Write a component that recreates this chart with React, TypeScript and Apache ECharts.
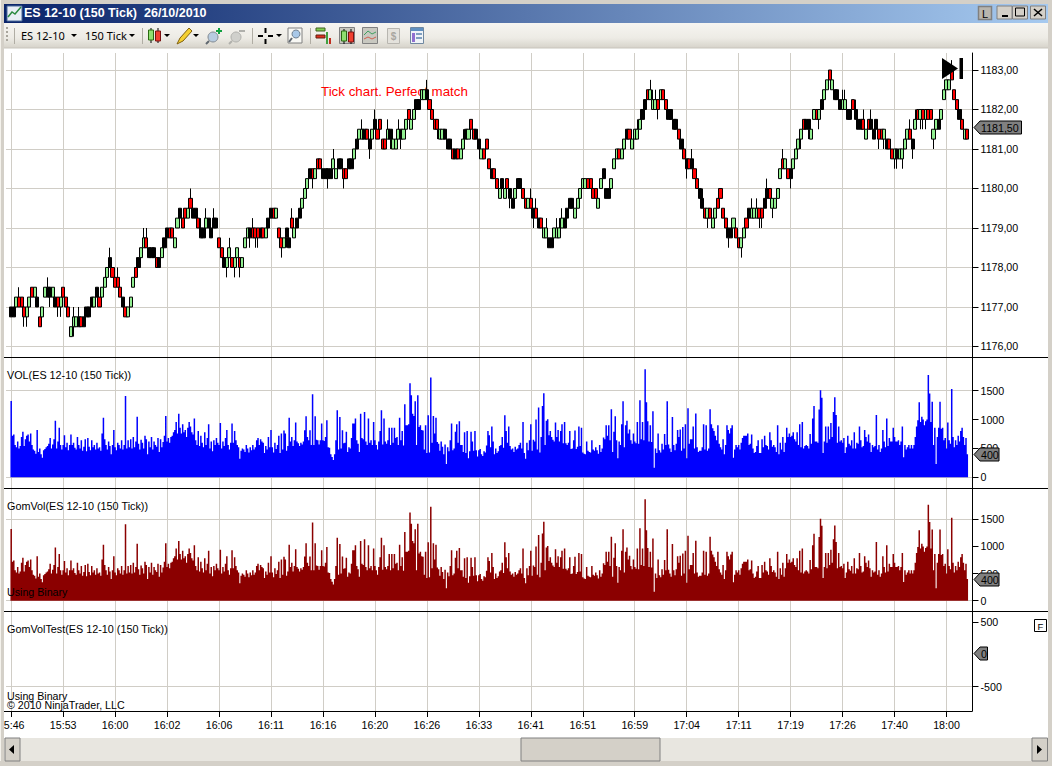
import React, { useEffect, useRef } from "react";
import * as echarts from "echarts";

// Time labels under the chart, one every 20 candles
const timeLabels = ["15:46","15:53","16:00","16:02","16:06","16:11","16:16","16:20","16:26","16:33","16:41","16:51","16:59","17:04","17:11","17:19","17:26","17:40","18:00"];
const priceTicks = [1176,1177,1178,1179,1180,1181,1182,1183];
const volTicks = [0,500,1000,1500];
const volGridTicks = [0,1500];
const testTicks = [-500,500];

// Candles: <body bottom in quarter points above 1176><g up|r down|k black><+ wick above><- wick below>
const candles0 = "3k 3k 4g 4r+ 4r 3r- 3g- 4g 5r 5g 4k 2r 3g 5g 5k+ 5k- 5g 4k 4r- 4g-".split(" ");
const candles1 = "5r 4r 3r 1g 2g+- 2g 2k+ 2r 2k 3k 3k 4k 4g 5k 4r 5g 6g 7g 8k+ 7r".split(" ");
const candles2 = "6r 6r+ 5r 4k 3r 3g 4g 6g 7r 8k 9g 10g+ 10r+ 9k 9k 9k 8r 8k 9g 10k".split(" ");
const candles3 = "11k 11r 11r 10g 12g 13k 12r 13r 13g 14r+ 13k 13k 12r 11k+ 11k 12g+ 12k 11k 12k+ 12k".split(" ");
const candles4 = "10r 9r 8k 8g- 9g+ 8r 8g- 9g 8r- 8g 10g 11g 11k- 11r+ 11r- 11r- 11k 11r 11g 12k".split(" ");
const candles5 = "13k 13r 13g 11r 10r- 10g 11k- 10k 12r+ 11g 12k 13k 14g 15g 16g 17k 17r- 17g 18r 18r".split(" ");
const candles6 = "17k 17k 17k- 17k 18g+ 17g 18k 18k 17r- 17r 18k 18k 19g 20k 21g 21g+ 21k 21r 20k- 21g".split(" ");
const candles7 = "22k+ 21r 22r 20r 20r 21g+ 21k- 20g 20g 21g+ 21k- 21g 22g 23r 22g 23g 24k 24k 25g 25g".split(" ");
const candles8 = "25k+ 24r 23r 22r 22r- 21g 21g 21k 20k 20k 19r 19k 19r 19g 20g+ 21k 21g 22r 21r 21k".split(" ");
const candles9 = "20k 19g 19r 20r 18r 17k 17r 16r 15g 16k 15g 16r 15k- 14k 15g 16k 16k 15r 14r 14g".split(" ");
const candles10 = "14r+ 13k- 13r+ 12k 12r 11g 11g+ 10k 10k 11g 11g+ 11g+ 12g+ 12k 13k 14k 14k 13g 14g 15g".split(" ");
const candles11 = "16g 16g 16r 16r 15r 15r 14g 16g 17k 15k 15k 16g 18g 19g 19r 19g 20g 21k 21r 20g".split(" ");
const candles12 = "21g 21g+ 22g 23k 24k 25r 25g+ 24g+ 24g+ 24r- 25g 25r 24r 23k 23k 22k 22k 21r 20k 19r".split(" ");
const candles13 = "18k- 18r 18k+ 17r 16r 15k 14k+ 13r 13g- 13r 12g 13g 14r 15r 13r 12r 11k- 11k 12g 11r".split(" ");
const candles14 = "10r 10g- 11g 12r 13k 13g+ 13g 13g+ 13r- 13r- 14k 15k+ 15r 14g- 14g 15g 17g 18r+ 18g 17r".split(" ");
const candles15 = "17k- 18g 19g 20g 21g- 22r 22k 22k- 21g 23g 23r 23g- 24k 25g 26g 27r 26g 25k 25k 24k".split(" ");
const candles16 = "24g+ 24g+ 23k 23k 24r 23k+ 22k 22k 22r+ 21g 22r 22k+ 21k 22k 21r- 21r 21g- 20k 20r 19r".split(" ");
const candles17 = "19g- 19k- 19g 19g- 20g 21g 21r+ 20k- 22g+ 23r 23g- 23r- 23g- 23r 23r 21g- 22g 22k 23g 25g".split(" ");
const candles18 = "26g 26g 27r+ 25r 24r 23k 22r 21g 21r".split(" ");

// Volume per bar, grouped by the span between two vertical grid lines
const vol0 = [1320,720,740,560,520,620,500,540,700,790,540,660,720,740,620,760,560,480,460,410,820,440,500,400,340,470,490,520,540,580,680,500,570,660,980,500,620,860,560,480];
const vol1 = [560,730,520,600,470,560,740,560,600,510,480,700,560,500,640,460,530,660,450,680,530,470,640,520,560,480,600,500,520,460,760,1030,660,560,480,620,540,400,560,820];
const vol2 = [520,470,600,560,500,640,480,560,1410,500,640,520,660,500,700,520,620,1050,580,480,650,600,500,720,660,400,620,520,700,480,620,560,530,680,440,660,520,610,720,1060];
const vol3 = [620,680,600,700,720,780,820,960,760,1100,860,760,920,780,820,700,860,960,880,780,740,1020,640,560,800,540,720,600,520,780,560,680,920,500,620,450,640,560,680,600];
const vol4 = [560,940,500,620,540,680,820,560,480,600,930,600,800,640,560,520,320,460,500,480,440,560,500,430,520,470,560,480,520,640,680,560,660,620,600,420,540,480,700,520];
const vol5 = [820,520,430,600,490,560,720,420,760,480,810,760,460,540,1030,620,700,540,640,950,620,590,540,600,570,620,815,1058,700,640,815,560,1440,560,1058,650,640,570,640,930];
const vol6 = [640,630,700,990,520,510,400,350,300,400,640,1160,480,1045,500,815,590,600,790,440,520,500,680,930,930,1020,640,580,440,1100,680,660,1130,620,560,1020,600,640,560,960];
const vol7 = [640,560,480,620,800,1160,570,1020,620,580,640,860,560,860,600,860,680,700,560,1030,640,800,550,1265,900,900,920,1627,1420,1100,1060,1317,560,1420,870,900,820,810,480,900];
const vol8 = [420,1075,430,1730,600,1060,760,1030,610,580,460,620,530,400,570,230,520,450,640,930,470,500,790,920,600,970,560,560,440,780,420,800,330,450,790,620,460,800,470,360];
const vol9 = [470,490,400,370,450,430,550,800,730,520,880,620,400,500,420,450,540,560,700,510,1075,800,600,880,540,480,500,440,530,480,500,560,600,500,960,420,320,600,470,640];
const vol10 = [920,460,650,620,1000,480,1210,430,700,1236,1455,560,980,1006,730,800,700,650,620,950,700,820,620,800,920,590,960,590,560,600,800,490,500,640,810,490,530,880,540,860];
const vol11 = [430,410,400,620,460,440,430,640,480,460,520,470,410,560,440,500,690,660,900,720,900,640,1180,440,790,1058,640,330,620,560,920,1317,520,900,980,760,830,640,580,760];
const vol12 = [620,590,960,580,1334,660,960,640,1870,1300,970,620,900,610,1144,167,500,420,760,470,430,580,480,750,560,1317,570,500,440,1046,560,470,580,820,700,830,460,870,500,920];
const vol13 = [330,1196,580,660,660,880,500,1104,520,440,460,460,520,920,480,900,460,500,1180,920,850,800,720,640,900,580,520,480,660,400,560,900,820,760,850,900,340,480,560,520];
const vol14 = [560,480,600,680,720,720,720,760,560,580,740,500,420,440,540,640,420,420,660,520,720,560,540,480,780,640,530,560,520,440,900,400,600,480,700,440,600,860,700,760];
const vol15 = [700,720,780,660,620,780,560,920,520,960,500,540,560,540,500,750,580,1020,1235,620,620,600,1175,1510,1380,420,620,880,600,880,660,940,700,1130,1385,1080,600,880,620,640];
const vol16 = [600,680,420,520,720,580,550,640,500,780,500,600,580,880,640,520,540,820,700,620,740,600,440,560,520,540,1080,480,560,440,500,820,620,520,1020,540,680,620,620,860];
const vol17 = [700,620,620,640,560,620,880,346,560,480,520,560,500,560,500,560,700,880,990,1300,960,1050,1000,900,970,1000,1770,1450,960,1310,560,860,230,700,860,1310,840,860,640,680];
const vol18 = [500,950,640,580,1530,700,520,640,560,720,620,800,860,700,560,680,400];

const lastPrice = 1181.5;
const lastVol = 400;
const lastTest = 0;

const GRID = "#D0CDC6";
const AXIS_FONT = "Liberation Sans";
const FRAME = "#D4D0C8";

const candleTokens = [candles0,candles1,candles2,candles3,candles4,candles5,candles6,candles7,candles8,candles9,candles10,candles11,candles12,candles13,candles14,candles15,candles16,candles17,candles18].flat();
const volumes = [vol0,vol1,vol2,vol3,vol4,vol5,vol6,vol7,vol8,vol9,vol10,vol11,vol12,vol13,vol14,vol15,vol16,vol17,vol18].flat();

const CANDLE_PAD = 2; // empty candle slots left of the first candle
const VOL_PAD = 4;
const candleSlots = 373;
const volSlots = 745;

const candleCats = Array.from({ length: candleSlots }, (_, i) => String(i));
const volCats = Array.from({ length: volSlots }, (_, i) => String(i));
const timeTickValues = timeLabels.map((_, k) => CANDLE_PAD + k * 20);

const candleData: any[] = [];
for (let i = 0; i < CANDLE_PAD; i++) candleData.push(["-", "-", "-", "-"]);
candleTokens.forEach((t) => {
  const m = /^(\d+)([gkr])(\+*)(-*)$/.exec(t)!;
  const bottom = 1176 + Number(m[1]) * 0.25;
  const top = bottom + 0.25;
  const high = top + m[3].length * 0.25;
  const low = bottom - m[4].length * 0.25;
  const down = m[2] === "r";
  const item: any = { value: down ? [top, bottom, low, high] : [bottom, top, low, high] };
  if (m[2] === "k") item.itemStyle = { color: "#000", color0: "#000", borderColor: "#000", borderColor0: "#000" };
  candleData.push(item);
});
const volData = [...Array(VOL_PAD).fill(0), ...volumes];
const gomVolData = [...Array(VOL_PAD).fill(0), ...volumes]; // the two panes match bar for bar

const candleGridTest = (i: number) => i >= CANDLE_PAD && (i - CANDLE_PAD) % 20 === 0;
const volGridTest = (i: number) => i >= VOL_PAD && (i - VOL_PAD) % 40 === 0;

const LEFT = 6;
const PLOT_W = 966.5;
const panes = [
  { top: 53, height: 304, min: 1175.734, max: 1183.43 },
  { top: 357, height: 132, min: -202.7, max: 2083.8 },
  { top: 489, height: 123, min: -208, max: 2058 },
  { top: 612, height: 99, min: -875.6, max: 654.6 },
];

function xAxisFor(gridIndex: number, slots: "candle" | "vol"): any {
  const test = slots === "candle" ? candleGridTest : volGridTest;
  return {
    type: "category",
    gridIndex,
    boundaryGap: false,
    data: slots === "candle" ? candleCats : volCats,
    axisLine: { show: false, onZero: false },
    axisTick: { show: false },
    axisLabel: { show: false },
    splitLine: { show: true, interval: (i: number) => test(i), lineStyle: { color: GRID, width: 1 } },
  };
}

function timeAxis(gridIndex: number): any {
  return {
    type: "value",
    gridIndex,
    min: 0,
    max: candleSlots - 1,
    axisLine: { show: false, onZero: false },
    axisTick: { show: true, customValues: timeTickValues, length: 6, lineStyle: { color: "#000" } },
    axisLabel: {
      show: true, customValues: timeTickValues, color: "#000", fontFamily: AXIS_FONT, fontSize: 10.67, margin: 8,
      formatter: (v: number) => timeLabels[(v - CANDLE_PAD) / 20] ?? "",
    },
    splitLine: { show: true, lineStyle: { color: GRID, width: 1 } },
  };
}

function mainY(gridIndex: number, ticks: number[], fmt: (v: number) => string): any {
  const p = panes[gridIndex];
  return {
    type: "value",
    gridIndex,
    position: "right",
    min: p.min,
    max: p.max,
    scale: true,
    axisLine: { show: true, onZero: false, lineStyle: { color: "#000", width: 1 } },
    axisTick: { show: true, customValues: ticks, length: 6, lineStyle: { color: "#000" } },
    axisLabel: { show: true, customValues: ticks, color: "#000", fontFamily: AXIS_FONT, fontSize: 10.67, margin: 8, formatter: fmt },
    splitLine: { show: false },
  };
}

function gridY(gridIndex: number, ticks: number[]): any {
  const p = panes[gridIndex];
  return {
    type: "value",
    gridIndex,
    position: "left",
    min: p.min,
    max: p.max,
    scale: true,
    axisLine: { show: false },
    axisTick: { show: false, customValues: ticks },
    axisLabel: { show: false },
    splitLine: { show: true, lineStyle: { color: GRID, width: 1 } },
  };
}

const rect = (x: number, y: number, w: number, h: number, fill: any, extra: any = {}, z = 100) => ({
  type: "rect", z, silent: true, shape: { x, y, width: w, height: h }, style: { fill, ...extra },
});
const label = (x: number, y: number, text: string, font: string, fill = "#000", z = 100, align = "left") => ({
  type: "text", z, silent: true, x, y,
  style: { text, font, fill, align, verticalAlign: "middle", textAlign: align, textVerticalAlign: "middle" },
});
const line = (x1: number, y1: number, x2: number, y2: number, stroke = "#000", z = 100, lineWidth = 1) => ({
  type: "line", z, silent: true, shape: { x1, y1, x2, y2 }, style: { stroke, lineWidth },
});
const poly = (points: number[][], fill: string, stroke: any = null, z = 100) => ({
  type: "polygon", z, silent: true, shape: { points }, style: { fill, stroke, lineWidth: 1 },
});
const grad = (x2: number, y2: number, stops: [number, string][]) =>
  new echarts.graphic.LinearGradient(0, 0, x2, y2, stops.map(([offset, color]) => ({ offset, color })));

function dropdown(x: number, y: number) {
  return poly([[x, y], [x + 6, y], [x + 3, y + 3]], "#000");
}
function candleIcon(x: number, y: number, a: string, b: string) {
  return [
    line(x + 3, y, x + 3, y + 15), line(x + 10, y, x + 10, y + 15),
    rect(x + 0.5, y + 2, 5, 10, a, { stroke: "#2A6A10" }),
    rect(x + 7.5, y + 3, 5, 10, b, { stroke: "#7A1010" }),
  ];
}

function chrome(): any[] {
  const tbFont = "11px 'Noto Sans'";
  const captionFont = "10.8px 'Liberation Sans'";
  const noteFont = "10.67px 'Liberation Sans'";
  return [
    rect(0, 0, 1052, 4, FRAME),
    rect(0, 4, 4, 762, FRAME),
    rect(1048, 4, 4, 762, FRAME),
    line(0.5, 0, 0.5, 766, "#F4F2EC"),
    rect(0, 761, 1052, 5, FRAME),
    rect(4, 4, 1044, 19, grad(1, 0, [[0, "#0A246A"], [1, "#A6CAF0"]])),
    rect(7, 6, 15, 15, "#E8EEF6", { stroke: "#4A6A9A" }),
    { type: "polyline", z: 101, silent: true, shape: { points: [[8, 17], [12, 12], [15, 14], [21, 7]] }, style: { stroke: "#2A8A40", fill: null, lineWidth: 1.5 } },
    label(24, 13, "ES 12-10 (150 Tick)  26/10/2010", "bold 12.5px 'Liberation Sans'", "#fff"),
    rect(978.5, 6.5, 13, 13, "#B8B5AE", { stroke: "#808080", lineWidth: 1.5 }),
    label(985, 13.5, "L", "11px 'Liberation Sans'", "#000", 101, "center"),
    rect(997, 6, 15, 13, FRAME, { stroke: "#808080" }),
    rect(1002, 15, 6, 2, "#000"),
    rect(1012.5, 6, 15, 13, FRAME, { stroke: "#808080" }),
    rect(1015.5, 8, 9, 8, "none", { stroke: "#000", lineWidth: 1 }),
    rect(1030.5, 6, 15, 13, FRAME, { stroke: "#808080" }),
    line(1034, 9, 1042, 16, "#000", 101, 1.5), line(1042, 9, 1034, 16, "#000", 101, 1.5),
    rect(4, 23, 1044, 25, grad(0, 1, [[0, "#F6F5F1"], [0.6, "#EDEBE5"], [1, "#D6D3CA"]])),
    line(4, 48, 1048, 48, "#C8C5BC"),
    rect(6, 27, 2, 2, "#A8A59C"), rect(6, 31, 2, 2, "#A8A59C"), rect(6, 35, 2, 2, "#A8A59C"), rect(6, 39, 2, 2, "#A8A59C"),
    line(14.5, 28, 14.5, 44, "#B0ADA4"),
    label(21, 35.5, "ES 12-10", tbFont), dropdown(71, 34),
    label(85, 35.5, "150 Tick", tbFont), dropdown(129, 34),
    line(142.5, 28, 142.5, 44, "#B0ADA4"),
    ...candleIcon(148, 28, "#8FE070", "#F04030"), dropdown(164, 34),
    poly([[177, 44], [180, 38], [189, 28], [192, 31], [183, 41]], "#F5D030", "#806010"), dropdown(193, 34),
    { type: "circle", z: 100, silent: true, shape: { cx: 213, cy: 37, r: 5 }, style: { fill: "#B8CCE0", stroke: "#808890" } },
    line(209, 41, 206, 44, "#606870", 100, 2),
    rect(216, 30, 6, 2, "#10A040"), rect(218, 28, 2, 6, "#10A040"),
    { type: "circle", z: 100, silent: true, shape: { cx: 236, cy: 37, r: 5 }, style: { fill: "#D0D0CC", stroke: "#B0B0AC" } },
    line(232, 41, 229, 44, "#B0B0AC", 100, 2), rect(239, 30, 6, 2, "#B0B0AC"),
    line(252.5, 28, 252.5, 44, "#B0ADA4"),
    rect(258, 35, 5, 2, "#000"), rect(268, 35, 5, 2, "#000"), rect(264.5, 28, 2, 5, "#000"), rect(264.5, 39, 2, 5, "#000"), dropdown(276, 34),
    rect(288, 28, 14, 15, "#F8F8F4", { stroke: "#808080" }),
    { type: "circle", z: 101, silent: true, shape: { cx: 296, cy: 34, r: 4 }, style: { fill: "#A8C8E8", stroke: "#708090" } },
    line(292, 38, 289, 42, "#606870", 101, 2),
    line(310.5, 28, 310.5, 44, "#B0ADA4"),
    rect(316, 28, 9, 3, "#80D050", { stroke: "#406020" }), rect(316, 35, 9, 3, "#E03020", { stroke: "#602010" }), rect(326, 32, 2, 12, "#40A040"), rect(329, 38, 2, 6, "#C03020"),
    rect(339.5, 27.5, 15, 16, "#C8C8C0", { stroke: "#808080" }), ...candleIcon(341, 29, "#8FE070", "#F04030").map((o: any) => ({ ...o, z: 101 })),
    rect(362.5, 27.5, 15, 16, "#C8C8C0", { stroke: "#808080" }),
    { type: "polyline", z: 101, silent: true, shape: { points: [[364, 35], [368, 31], [372, 34], [376, 32]] }, style: { stroke: "#40A060", fill: null } },
    { type: "polyline", z: 101, silent: true, shape: { points: [[364, 39], [368, 37], [372, 39], [376, 37]] }, style: { stroke: "#D06050", fill: null } },
    rect(387.5, 28.5, 12, 15, "#E4E2DC", { stroke: "#B8B6B0" }),
    label(393.5, 36, "$", "bold 10px 'Liberation Sans'", "#A8A6A0", 101, "center"),
    rect(410.5, 27.5, 13, 16, "#F0F4F8", { stroke: "#7088A0" }), rect(411, 28, 12, 3, "#6090C0", {}, 101), rect(412, 33, 3, 9, "#9070D0", {}, 101), rect(416, 33, 6, 2, "#80A0C0", {}, 101), rect(416, 37, 6, 2, "#80A0C0", {}, 101),
    // scrollbar
    rect(4, 738, 1044, 23, "#E8E6E0"),
    rect(5, 738, 15, 23, FRAME, { stroke: "#808080" }),
    poly([[14, 745], [14, 754], [9, 749.5]], "#000", null, 101),
    rect(1032, 738, 15.5, 23, FRAME, { stroke: "#808080" }),
    poly([[1037, 745], [1037, 754], [1042, 749.5]], "#000", null, 101),
    rect(521, 738, 139, 23, FRAME, { stroke: "#808080" }),
    // pane separators and the bottom axis
    line(4, 357.5, 1048, 357.5, "#000", 50),
    line(4, 488.5, 1048, 488.5, "#000", 50),
    line(4, 611.5, 1048, 611.5, "#000", 50),
    line(4, 711.5, 972.5, 711.5, "#000", 50),
    // pane captions
    label(7, 375, "VOL(ES 12-10 (150 Tick))", captionFont, "#000", 50),
    label(7, 506, "GomVol(ES 12-10 (150 Tick))", captionFont, "#000", 50),
    label(7, 592, "Using Binary", noteFont, "#000", 50),
    label(7, 629, "GomVolTest(ES 12-10 (150 Tick))", captionFont, "#000", 50),
    label(7, 696, "Using Binary", noteFont, "#000", 50),
    label(7, 705, "\u00A9 2010 NinjaTrader, LLC", noteFont, "#000", 50),
    label(321, 91, "Tick chart. Perfect match", "13.33px 'Liberation Sans'", "#FF0000", 1),
    // "F" box and the end-of-data marker
    rect(1034.5, 619.5, 12, 12, "#fff", { stroke: "#000" }),
    label(1040.5, 626, "F", "9.5px 'Liberation Sans'", "#000", 101, "center"),
    poly([[942, 58], [942, 79], [958, 68.5]], "#000", null, 60),
    rect(959.5, 58, 3.5, 21, "#000", {}, 60),
  ];
}

function tag(y: number, right: number, text: string) {
  const yy = Math.round(y) + 0.5;
  return [
    poly([[974, yy], [980, yy - 6.5], [right, yy - 6.5], [right, yy + 6.5], [980, yy + 6.5]], "#808080", "#000", 90),
    label(981, yy, text, "10.67px 'Liberation Sans'", "#000", 91),
  ];
}

export default function App() {
  const ref = useRef<HTMLDivElement>(null);
  useEffect(() => {
    document.body.style.margin = "0";
    document.body.style.background = "#fff";
    const chart = echarts.init(ref.current!, undefined, { renderer: "svg", width: 1052, height: 766 });
    const priceFmt = (v: number) => v.toFixed(2).replace(".", ",");
    const plainFmt = (v: number) => String(v);
    chart.setOption({
      animation: false,
      backgroundColor: "#ffffff",
      grid: panes.map((p) => ({ left: LEFT, width: PLOT_W, top: p.top, height: p.height, containLabel: false, outerBoundsMode: "none" })),
      xAxis: [xAxisFor(0, "candle"), xAxisFor(1, "vol"), xAxisFor(2, "vol"), timeAxis(3)],
      yAxis: [
        mainY(0, priceTicks, priceFmt), mainY(1, volTicks, plainFmt), mainY(2, volTicks, plainFmt), mainY(3, testTicks, plainFmt),
        gridY(0, priceTicks), gridY(1, volGridTicks), gridY(2, volGridTicks), gridY(3, [-500]),
      ],
      series: [
        {
          type: "candlestick", name: "ES 12-10", xAxisIndex: 0, yAxisIndex: 0, data: candleData, barWidth: 3.6, clip: false,
          itemStyle: { color: "#90EE90", color0: "#FF0000", borderColor: "#000", borderColor0: "#000", borderWidth: 1 },
        },
        { type: "bar", name: "VOL", xAxisIndex: 1, yAxisIndex: 1, data: volData, barWidth: 1.5, large: true, largeThreshold: 100, itemStyle: { color: "#0000FF" } },
        { type: "bar", name: "GomVol", xAxisIndex: 2, yAxisIndex: 2, data: gomVolData, barWidth: 1.5, large: true, largeThreshold: 100, itemStyle: { color: "#8B0000" } },
        { type: "line", name: "GomVolTest", xAxisIndex: 3, yAxisIndex: 3, data: [], showSymbol: false },
      ],
    });
    const yOf = (paneIndex: number, v: number) => chart.convertToPixel({ yAxisIndex: paneIndex }, v) as number;
    chart.setOption({
      graphic: {
        elements: [
          ...chrome(),
          ...tag(yOf(0, lastPrice) - 2, 1021.5, priceFmt(lastPrice)),
          ...tag(yOf(1, lastVol), 999, String(lastVol)),
          ...tag(yOf(2, lastVol), 999, String(lastVol)),
          ...tag(yOf(3, lastTest) - 1, 987.5, String(lastTest)),
        ],
      },
    });
    return () => chart.dispose();
  }, []);
  return <div ref={ref} style={{ width: 1052, height: 766 }} />;
}
